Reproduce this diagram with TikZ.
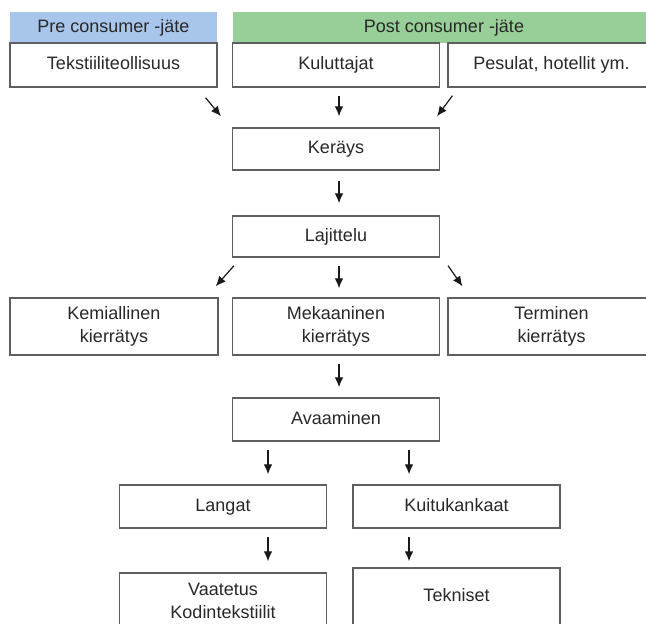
\documentclass[tikz,border=0pt]{standalone}
\usepackage{fontspec}
\setmainfont{Liberation Sans}
\usetikzlibrary{arrows.meta,calc}
\definecolor{preblue}{RGB}{168,198,236}
\definecolor{postgreen}{RGB}{152,206,152}
\definecolor{boxgray}{RGB}{95,95,95}
\definecolor{txtgray}{RGB}{40,40,40}
\tikzset{
  txt/.style={font=\fontsize{13.5}{17.5}\selectfont, text=txtgray, align=center, inner sep=0pt},
  oneline/.style={text height=9.7pt, text depth=2.9pt},
  head/.style={txt, oneline, fill=#1, minimum height=23.25pt},
  box/.style={txt, draw=boxgray, line width=1.1pt, fill=white, minimum width=155pt, minimum height=#1},
  box/.default=32pt,
  arr/.style={-{Latex[length=7.5pt,width=6.5pt]}, line width=0.9pt, black!90}
}
\begin{document}
\begin{tikzpicture}[x=0.75pt,y=-0.75pt]
    \clip (0,0) rectangle (646,624);
    \fill[white] (0,0) rectangle (646,624);

    % headers
    \node[head=preblue, minimum width=155.25pt] (pre) at (113.5,27.5) {Pre consumer -jäte};
    \node[head=postgreen, minimum width=316.5pt] (post) at (444,27.5) {Post consumer -jäte};

    % sources
    \node[box=33pt, oneline] (tekst) at (113.5,65) {Tekstiiliteollisuus};
    \node[box=33pt, oneline] (kulut) at (336,65) {Kuluttajat};
    \node[box=33pt, oneline] (pesulat) at (551.5,65) {Pesulat, hotellit ym.};

    \node[box=31.5pt, oneline] (kerays) at (336,149) {Keräys};
    \node[box=30.75pt, oneline] (lajittelu) at (336,236.5) {Lajittelu};

    % kierratys
    \node[box=42.75pt, minimum width=156pt] (kemia) at (114,326.5) {Kemiallinen\\kierrätys};
    \node[box=42.75pt] (mekaa) at (336,326.5) {Mekaaninen\\kierrätys};
    \node[box=42.75pt] (termi) at (551.5,326.5) {Terminen\\kierrätys};

    \node[box=32.25pt, oneline] (avaa) at (336,419.5) {Avaaminen};
    \node[box=32.25pt, oneline] (langat) at (223,506.5) {Langat};
    \node[box=32.25pt, oneline] (kuitu) at (456.5,506.5) {Kuitukankaat};
    \node[box=42pt] (vaate) at (223,601) {Vaatetus\\Kodintekstiilit};
    \node[box=43.5pt, oneline] (tekn) at (456.5,597) {Tekniset};

    % arrows
    \draw[arr] ($(tekst.south east)+(-12,10)$) -- ($(kerays.north west)+(-11,-11)$);
    \draw[arr] ($(kulut.south)+(3,8)$) -- ($(kerays.north)+(3,-11)$);
    \draw[arr] ($(pesulat.south west)+(5,8)$) -- ($(kerays.north east)+(-3,-11)$);
    \draw[arr] ($(kerays.south)+(3,10)$) -- ($(lajittelu.north)+(3,-12)$);
    \draw[arr] ($(lajittelu.south west)+(2,8)$) -- ($(kemia.north east)+(-3,-11)$);
    \draw[arr] ($(lajittelu.south)+(3,8)$) -- ($(mekaa.north)+(3,-9)$);
    \draw[arr] ($(lajittelu.south east)+(8,8)$) -- ($(termi.north west)+(15,-11)$);
    \draw[arr] ($(mekaa.south)+(3,8)$) -- ($(avaa.north)+(3,-10)$);
    \draw[arr] ($(avaa.south)+(-68,8)$) -- ($(langat.north)+(45,-10)$);
    \draw[arr] ($(avaa.south)+(73,8)$) -- ($(kuitu.north)+(-47.5,-10)$);
    \draw[arr] ($(langat.south)+(45,8)$) -- ($(vaate.north)+(45,-11)$);
    \draw[arr] ($(kuitu.south)+(-47.5,8)$) -- ($(tekn.north)+(-47.5,-6)$);
\end{tikzpicture}
\end{document}
